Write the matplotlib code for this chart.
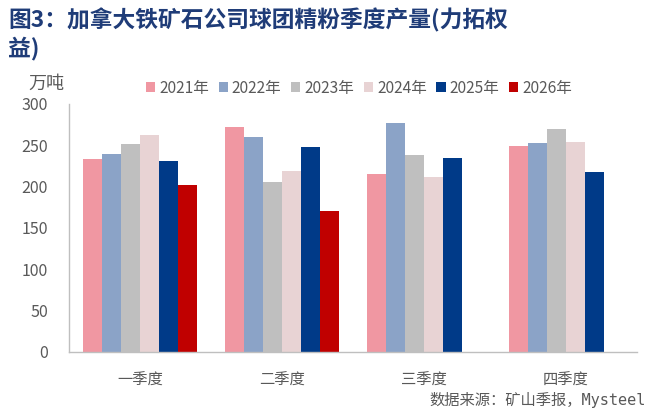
import matplotlib
matplotlib.use("Agg")
import matplotlib.pyplot as plt
import numpy as np

plt.rcParams['font.family'] = ['Noto Sans CJK SC', 'DejaVu Sans']

categories = ["一季度", "二季度", "三季度", "四季度"]
years = ["2021年", "2022年", "2023年", "2024年", "2025年", "2026年"]
v2021 = [234, 272, 215, 249]
v2022 = [240, 260, 277, 253]
v2023 = [252, 206, 238, 270]
v2024 = [263, 219, 212, 254]
v2025 = [231, 248, 235, 218]
v2026 = [202, 171, None, None]
series = [v2021, v2022, v2023, v2024, v2025, v2026]
colors = ["#F097A2", "#8BA3C7", "#BFBFBF", "#E8D3D4", "#003A88", "#C00000"]
yticks = [0, 50, 100, 150, 200, 250, 300]

fig = plt.figure(figsize=(6.5, 4.13), dpi=100)
ax = fig.add_axes([69/650, 1-352/413, (637-69)/650, (352-104)/413])

x = np.arange(len(categories))
n = len(series)
w = 0.8 / n
for i, (vals, c, lab) in enumerate(zip(series, colors, years)):
    xs = [xi + (i - (n-1)/2) * w for xi, v in zip(x, vals) if v is not None]
    vs = [v for v in vals if v is not None]
    ax.bar(xs, vs, width=w, color=c, label=lab, linewidth=0, zorder=2)

ax.set_xlim(-0.5, 3.5)
ax.set_ylim(0, 300)
ax.set_yticks(yticks)
ax.set_xticks(x)
ax.set_xticklabels(categories)
gray = "#595959"
ax.tick_params(axis='y', length=0, labelsize=11.5, colors=gray, pad=15)
ax.tick_params(axis='x', length=0, labelsize=11, colors=gray, pad=14)
for s in ['top', 'right']:
    ax.spines[s].set_visible(False)
for s in ['left', 'bottom']:
    ax.spines[s].set_color("#BFBFBF")
    ax.spines[s].set_linewidth(1.0)

leg = ax.legend(loc='center left', bbox_to_anchor=((146-69)/568, (352-88)/248), ncol=6,
                frameon=False, fontsize=11.2, handlelength=0.6, handleheight=0.6,
                handletextpad=0.25, columnspacing=0.62, borderaxespad=0, borderpad=0)
for t in leg.get_texts():
    t.set_color(gray)

fig.text(8/650, 1-20/413, "图3：加拿大铁矿石公司球团精粉季度产量(力拓权", fontsize=16.4,
         fontweight='bold', color="#1F3C78", va='center', ha='left')
fig.text(8/650, 1-48/413, "益)", fontsize=16.4, fontweight='bold', color="#1F3C78",
         va='center', ha='left')
fig.text(46/650, 1-84/413, "万吨", fontsize=13, color=gray, va='center', ha='center')
fig.text(646/650, 1-400/413, "数据来源：矿山季报，Mysteel", fontsize=11, color=gray,
         va='center', ha='right', family=['DejaVu Sans Mono', 'Noto Sans CJK SC'])

fig.savefig("out.png", dpi=100)
